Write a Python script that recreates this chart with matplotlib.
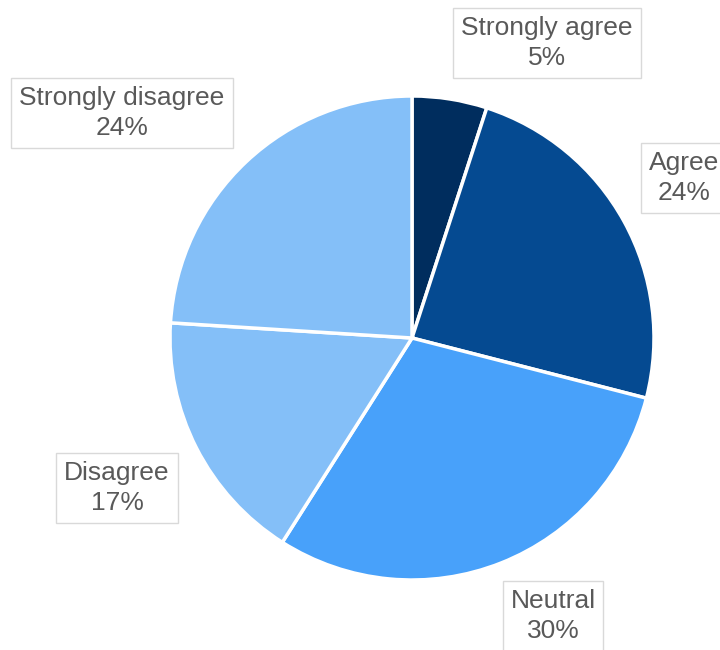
import matplotlib.pyplot as plt

labels = ["Strongly agree", "Agree", "Neutral", "Disagree", "Strongly disagree"]
shares = [5, 24, 30, 17, 24]
colors = ["#002d5e", "#054a91", "#48a1fa", "#84bff8", "#84bff8"]
# label box centres in pixels (x, y from top)
label_pos = [(547, 43), (684, 178), (553, 616), (117, 488), (122, 113)]

W, H = 720, 650
fig = plt.figure(figsize=(W / 100, H / 100), dpi=100)
cx, cy, r = 412, 338, 242
ax = fig.add_axes([(cx - r) / W, (H - cy - r) / H, 2 * r / W, 2 * r / H])
ax.pie(shares, colors=colors, startangle=90, counterclock=False,
       wedgeprops=dict(edgecolor="white", linewidth=2.5))
ax.set_xlim(-1, 1)
ax.set_ylim(-1, 1)
ax.set_aspect("equal")
ax.axis("off")

for name, val, (x, y) in zip(labels, shares, label_pos):
    fig.text(x / W, 1 - y / H, f"{name}\n{val}%", ha="center", va="center",
             fontsize=19, color="#595959", family="Liberation Sans",
             linespacing=1.3,
             bbox=dict(boxstyle="square,pad=0.3", fc="white", ec="#d9d9d9", lw=1))

fig.savefig("out.png", dpi=100)
